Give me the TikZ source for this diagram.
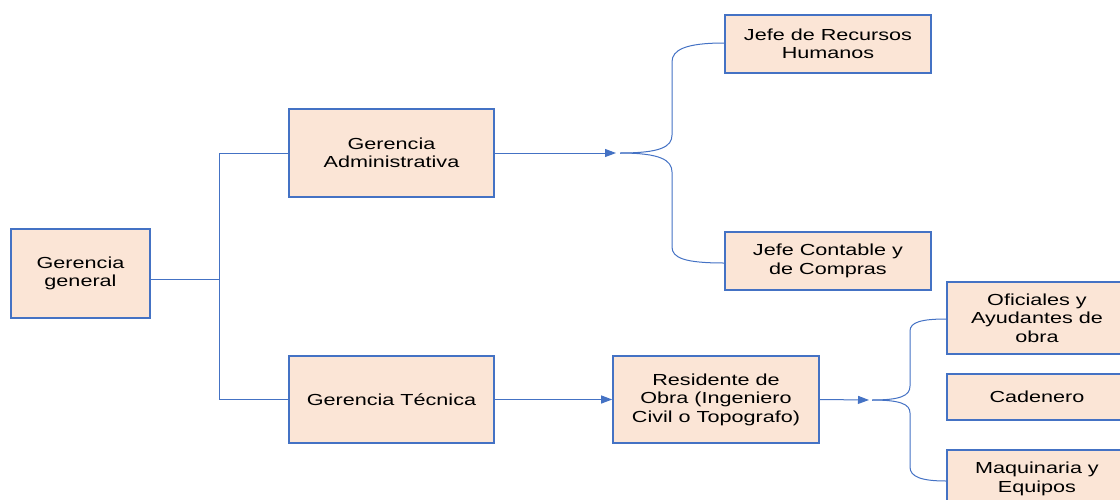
\documentclass[tikz,border=0pt]{standalone}
\usepackage{fontspec}
\setmainfont[FakeStretch=1.35]{Liberation Sans}
\usetikzlibrary{arrows.meta}
\definecolor{boxfill}{HTML}{FBE5D6}
\definecolor{lineblue}{HTML}{4472C4}

\begin{document}
\begin{tikzpicture}[x=1pt,y=-1pt,
  box/.style={draw=lineblue, line width=1.6pt, fill=boxfill, align=center,
    inner sep=0pt, font=\fontsize{16}{18.5}\selectfont},
  link/.style={draw=lineblue, line width=1pt},
  arr/.style={link, -{Triangle[length=11pt,width=8pt]}}]
\useasboundingbox (0,0) rectangle (1120,499);

% boxes
\node[box, minimum width=139pt, minimum height=89pt] (gg) at (80.5,273.5) {Gerencia\\general};
\node[box, minimum width=205pt, minimum height=88pt] (ga) at (391.5,153) {Gerencia\\Administrativa};
\node[box, minimum width=205pt, minimum height=87pt] (gt) at (391.5,399.5) {Gerencia Técnica};
\node[box, minimum width=206pt, minimum height=87pt] (ro) at (716,399.5) {Residente de\\Obra (Ingeniero\\Civil o Topografo)};
\node[box, minimum width=206pt, minimum height=58pt] (rh) at (828,44) {Jefe de Recursos\\Humanos};
\node[box, minimum width=206pt, minimum height=58pt] (jc) at (828,261) {Jefe Contable y\\de Compras};
\node[box, minimum width=180pt, minimum height=72pt] (of) at (1037,318) {Oficiales y\\Ayudantes de\\obra};
\node[box, minimum width=180pt, minimum height=46pt] (ca) at (1037,397) {Cadenero};
\node[box, minimum width=180pt, minimum height=58pt] (mq) at (1037,479) {Maquinaria y\\Equipos};

% tree from the general management
\coordinate (j) at (219,279);
\draw[link] (gg.east |- j) -- (j);
\draw[link] (j |- ga.west) -- (j |- gt.west);
\draw[link] (j |- ga.west) -- (ga.west);
\draw[link] (j |- gt.west) -- (gt.west);

% administrative branch
\coordinate (b1) at (616,153);
\coordinate (p1) at (620,153);
\draw[arr] (ga.east) -- (b1);
\draw[link] (p1) .. controls (660,153) and (672,147) .. (672,135) -- (672,62)
  .. controls (672,50) and (685,43) .. (rh.west |- 0,43);
\draw[link] (p1) .. controls (660,153) and (672,160) .. (672,172) -- (672,247)
  .. controls (672,258) and (685,263) .. (jc.west |- 0,263);

% technical branch
\draw[arr] (gt.east) -- (ro.west);
\coordinate (b2) at (869,400);
\coordinate (p2) at (872,400);
\draw[arr] (ro.east) -- (b2);
\draw[link] (p2) .. controls (900,400) and (910,396) .. (910,386) -- (910,331)
  .. controls (910,322) and (922,319) .. (of.west |- 0,319);
\draw[link] (p2) .. controls (900,400) and (910,404) .. (910,413) -- (910,467)
  .. controls (910,477) and (922,481) .. (mq.west |- 0,481);
\end{tikzpicture}
\end{document}
